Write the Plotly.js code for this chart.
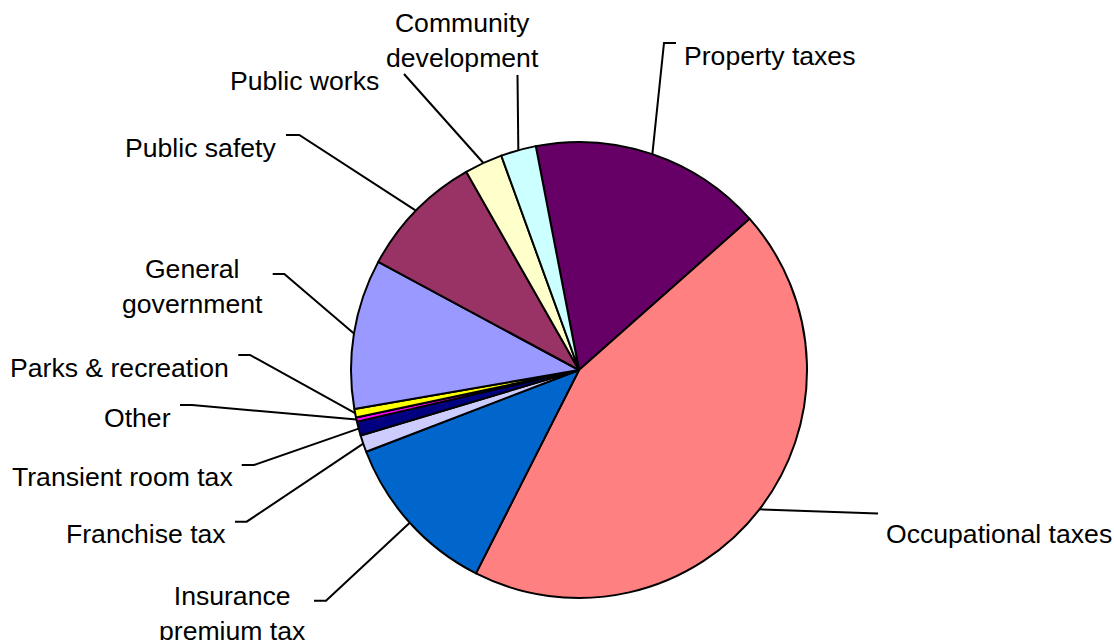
<!DOCTYPE html>
<html><head><meta charset="utf-8">
<script src="https://cdn.plot.ly/plotly-3.0.1.min.js"></script>
<style>html,body{margin:0;padding:0;background:#fff;}#chart{width:1114px;height:640px;}</style>
</head><body><div id="chart"></div>
<script>
// ---- data ----
const categories = ["Property taxes","Occupational taxes","Insurance premium tax","Franchise tax","Transient room tax","Other","Parks & recreation","General government","Public safety","Public works","Community development"];
const shares = [16.5, 44.0, 11.7, 1.2, 1.0, 0.3, 0.6, 10.6, 8.9, 2.7, 2.5];
const labelText = ["Property taxes","Occupational taxes","Insurance<br>premium tax","Franchise tax","Transient room tax","Other","Parks &amp; recreation","General<br>government","Public safety","Public works","Community<br>development"];
const sliceColors = ["#660066","#FF8080","#0066CC","#CCCCFF","#000080","#FF00FF","#FFFF00","#9999FF","#993366","#FFFFCC","#CCFFFF"];

// ---- layout (pixels) ----
const W = 1114, H = 640, CX = 579, CY = 370, R = 228, START = -10.93;
const labelPlace = [
  {x: 684,   y: 56,    anchor: 'left',   elbow: [664, 43],    tick: [676, 43]},
  {x: 886,   y: 533.7, anchor: 'left',   elbow: [878, 513.5], tick: [878, 513.5]},
  {x: 232.5, y: 613,   anchor: 'center', elbow: [326, 600.7], tick: [314, 600.7]},
  {x: 226,   y: 534.3, anchor: 'right',  elbow: [246.7, 521.7], tick: [235, 521.7]},
  {x: 232.5, y: 477,   anchor: 'right',  elbow: [254, 465],   tick: [241.7, 465]},
  {x: 171,   y: 417.7, anchor: 'right',  elbow: [192, 405],   tick: [180, 405]},
  {x: 229,   y: 367.7, anchor: 'right',  elbow: [250, 355],   tick: [238.3, 355]},
  {x: 192.5, y: 286,   anchor: 'center', elbow: [284.3, 274], tick: [272.7, 274]},
  {x: 276,   y: 148.3, anchor: 'right',  elbow: [299.3, 135], tick: [286, 135]},
  {x: 379,   y: 81,    anchor: 'right',  elbow: [404, 74],    tick: [404, 74]},
  {x: 462.5, y: 40.3,  anchor: 'center', elbow: [517.5, 75],  tick: [517.5, 75]}
];

const px = v => v / W;
const py = v => 1 - v / H;

const total = shares.reduce((a, b) => a + b, 0);
let acc = START;
const shapes = [];
const annotations = [];
shares.forEach((v, i) => {
  const span = v / total * 360;
  const mid = (acc + span / 2) * Math.PI / 180;
  acc += span;
  const sx = CX + R * Math.sin(mid);
  const sy = CY - R * Math.cos(mid);
  const p = labelPlace[i];
  shapes.push({
    type: 'path', xref: 'paper', yref: 'paper', layer: 'above',
    path: `M${px(sx)},${py(sy)} L${px(p.elbow[0])},${py(p.elbow[1])} L${px(p.tick[0])},${py(p.tick[1])}`,
    line: {color: '#000', width: 2}
  });
  annotations.push({
    xref: 'paper', yref: 'paper', x: px(p.x), y: py(p.y),
    xanchor: p.anchor, yanchor: 'middle', align: 'center',
    text: labelText[i], showarrow: false, borderpad: 0, borderwidth: 0,
    font: {family: 'Liberation Sans, Arial, sans-serif', size: 26.6, color: '#000'}
  });
});

const trace = {
  type: 'pie',
  labels: categories,
  values: shares,
  sort: false,
  direction: 'clockwise',
  rotation: START,
  textinfo: 'none',
  hoverinfo: 'label+percent',
  marker: {colors: sliceColors, line: {color: '#000', width: 2}},
  domain: {x: [px(CX - R), px(CX + R)], y: [py(CY + R), py(CY - R)]}
};

Plotly.newPlot('chart', [trace], {
  width: W, height: H,
  margin: {l: 0, r: 0, t: 0, b: 0, pad: 0},
  paper_bgcolor: '#fff', plot_bgcolor: '#fff',
  showlegend: false,
  shapes: shapes,
  annotations: annotations
}, {displayModeBar: false, staticPlot: true});
</script>
</body></html>
